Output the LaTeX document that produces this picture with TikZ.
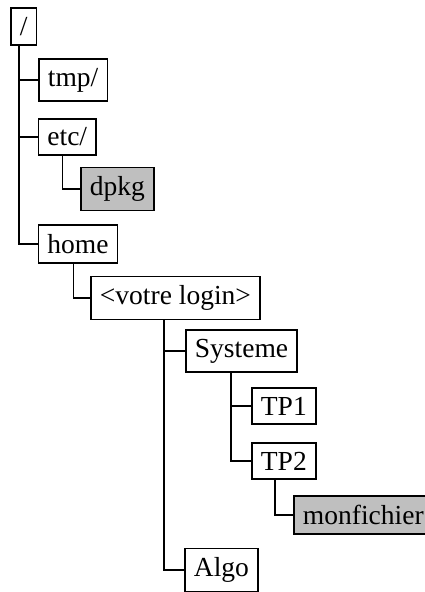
\documentclass[tikz,border=0pt]{standalone}
\usepackage{fontspec}
\setmainfont{Liberation Serif}
\usepackage{tikz}
\usetikzlibrary{calc}

\begin{document}
\begin{tikzpicture}[
    x=0.367pt, y=-0.367pt,
    dir/.style={draw, semithick, anchor=west, fill=white, font=\fontsize{10.1}{12}\selectfont},
    file/.style={dir, fill=black!25},
    branch/.style={thin},
]
    \clip (0,0) rectangle (425,592);
    \node [dir]  (root)  at (10,26.5)   {/};
    \node [dir]  (tmp)   at (38,80)     {tmp/};
    \node [dir]  (etc)   at (37.5,137)  {etc/};
    \node [file] (dpkg)  at (80,189)    {dpkg};
    \node [dir]  (home)  at (37.5,244)  {home};
    \node [dir]  (login) at (90,298)    {<votre login>};
    \node [dir]  (sys)   at (185,351)   {Systeme};
    \node [dir]  (tp1)   at (251,406)   {TP1};
    \node [dir]  (tp2)   at (251,461)   {TP2};
    \node [file] (mon)   at (293,515)   {monfichier};
    \node [dir]  (algo)  at (184,570)   {Algo};

    % branches of the tree
    \draw [branch] ($(root.south west)+(9,0)$) |- (tmp.west);
    \draw [branch] ($(root.south west)+(9,0)$) |- (etc.west);
    \draw [branch] ($(root.south west)+(9,0)$) |- (home.west);
    \draw [branch] ($(etc.south west)+(25,0)$) |- (dpkg.west);
    \draw [branch] ($(home.south west)+(36,0)$) |- (login.west);
    \draw [branch] ($(login.south west)+(74,0)$) |- (sys.west);
    \draw [branch] ($(login.south west)+(74,0)$) |- (algo.west);
    \draw [branch] ($(sys.south west)+(46,0)$) |- (tp1.west);
    \draw [branch] ($(sys.south west)+(46,0)$) |- (tp2.west);
    \draw [branch] ($(tp2.south west)+(24,0)$) |- (mon.west);
\end{tikzpicture}
\end{document}
